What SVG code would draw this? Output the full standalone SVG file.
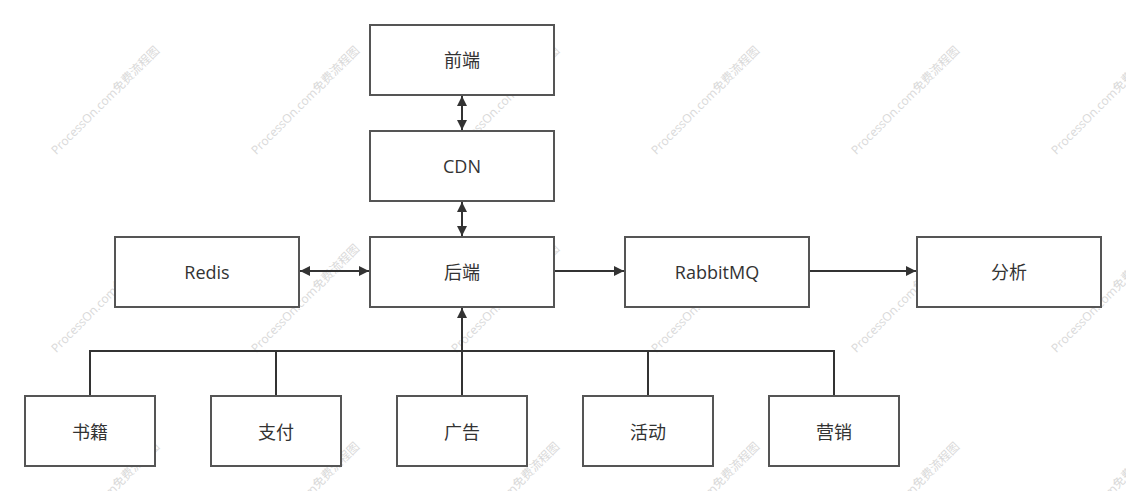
<svg xmlns="http://www.w3.org/2000/svg" width="1126" height="491" viewBox="0 0 1126 491">
<style>
.box{fill:#fff;stroke:#555;stroke-width:2}
.lbl{font-family:"Open Sans","Noto Sans CJK SC",sans-serif;font-size:18px;fill:#333;text-anchor:middle;dominant-baseline:central}
.con{fill:none;stroke:#333;stroke-width:2}
.wm{font-family:"Open Sans","Noto Sans CJK SC",sans-serif;font-size:12px;fill:#d9d9d9;text-anchor:middle;dominant-baseline:central}
</style>
<defs>
<marker id="ah" markerUnits="userSpaceOnUse" markerWidth="12" markerHeight="12" viewBox="0 0 12 12" refX="11" refY="6" orient="auto-start-reverse">
<path d="M1,1 L11,6 L1,11 Z" fill="#333"/>
</marker>
</defs>
<rect width="1126" height="491" fill="#fff"/>
<g id="watermarks">
<text class="wm" transform="translate(105,100) rotate(-45)">ProcessOn.com免费流程图</text>
<text class="wm" transform="translate(305,100) rotate(-45)">ProcessOn.com免费流程图</text>
<text class="wm" transform="translate(505,100) rotate(-45)">ProcessOn.com免费流程图</text>
<text class="wm" transform="translate(705,100) rotate(-45)">ProcessOn.com免费流程图</text>
<text class="wm" transform="translate(905,100) rotate(-45)">ProcessOn.com免费流程图</text>
<text class="wm" transform="translate(1105,100) rotate(-45)">ProcessOn.com免费流程图</text>
<text class="wm" transform="translate(105,298) rotate(-45)">ProcessOn.com免费流程图</text>
<text class="wm" transform="translate(305,298) rotate(-45)">ProcessOn.com免费流程图</text>
<text class="wm" transform="translate(505,298) rotate(-45)">ProcessOn.com免费流程图</text>
<text class="wm" transform="translate(705,298) rotate(-45)">ProcessOn.com免费流程图</text>
<text class="wm" transform="translate(905,298) rotate(-45)">ProcessOn.com免费流程图</text>
<text class="wm" transform="translate(1105,298) rotate(-45)">ProcessOn.com免费流程图</text>
<text class="wm" transform="translate(105,496) rotate(-45)">ProcessOn.com免费流程图</text>
<text class="wm" transform="translate(305,496) rotate(-45)">ProcessOn.com免费流程图</text>
<text class="wm" transform="translate(505,496) rotate(-45)">ProcessOn.com免费流程图</text>
<text class="wm" transform="translate(705,496) rotate(-45)">ProcessOn.com免费流程图</text>
<text class="wm" transform="translate(905,496) rotate(-45)">ProcessOn.com免费流程图</text>
<text class="wm" transform="translate(1105,496) rotate(-45)">ProcessOn.com免费流程图</text>
</g>
<g id="connectors">
<line class="con" x1="462" y1="96" x2="462" y2="130" marker-start="url(#ah)" marker-end="url(#ah)"/>
<line class="con" x1="462" y1="202" x2="462" y2="236" marker-start="url(#ah)" marker-end="url(#ah)"/>
<line class="con" x1="300" y1="271" x2="369" y2="271" marker-start="url(#ah)" marker-end="url(#ah)"/>
<line class="con" x1="555" y1="271" x2="624" y2="271" marker-end="url(#ah)"/>
<line class="con" x1="810" y1="271" x2="916" y2="271" marker-end="url(#ah)"/>
<path class="con" d="M90,396 V351 H462"/>
<path class="con" d="M276,396 V351"/>
<path class="con" d="M648,396 V351 H462"/>
<path class="con" d="M834,396 V351 H648"/>
<path class="con" d="M462,396 V308" marker-end="url(#ah)"/>
</g>
<g id="n-frontend"><rect class="box" x="370" y="25" width="184" height="70"/><text class="lbl" x="462" y="60">前端</text></g>
<g id="n-cdn"><rect class="box" x="370" y="131" width="184" height="70"/><text class="lbl" x="462" y="166">CDN</text></g>
<g id="n-backend"><rect class="box" x="370" y="237" width="184" height="70"/><text class="lbl" x="462" y="272">后端</text></g>
<g id="n-redis"><rect class="box" x="115" y="237" width="184" height="70"/><text class="lbl" x="207" y="272">Redis</text></g>
<g id="n-rabbitmq"><rect class="box" x="625" y="237" width="184" height="70"/><text class="lbl" x="717" y="272">RabbitMQ</text></g>
<g id="n-analysis"><rect class="box" x="917" y="237" width="184" height="70"/><text class="lbl" x="1009" y="272">分析</text></g>
<g id="n-books"><rect class="box" x="25" y="396" width="130" height="70"/><text class="lbl" x="90" y="432">书籍</text></g>
<g id="n-pay"><rect class="box" x="211" y="396" width="130" height="70"/><text class="lbl" x="276" y="432">支付</text></g>
<g id="n-ads"><rect class="box" x="397" y="396" width="130" height="70"/><text class="lbl" x="462" y="432">广告</text></g>
<g id="n-events"><rect class="box" x="583" y="396" width="130" height="70"/><text class="lbl" x="648" y="432">活动</text></g>
<g id="n-marketing"><rect class="box" x="769" y="396" width="130" height="70"/><text class="lbl" x="834" y="432">营销</text></g>
</svg>
